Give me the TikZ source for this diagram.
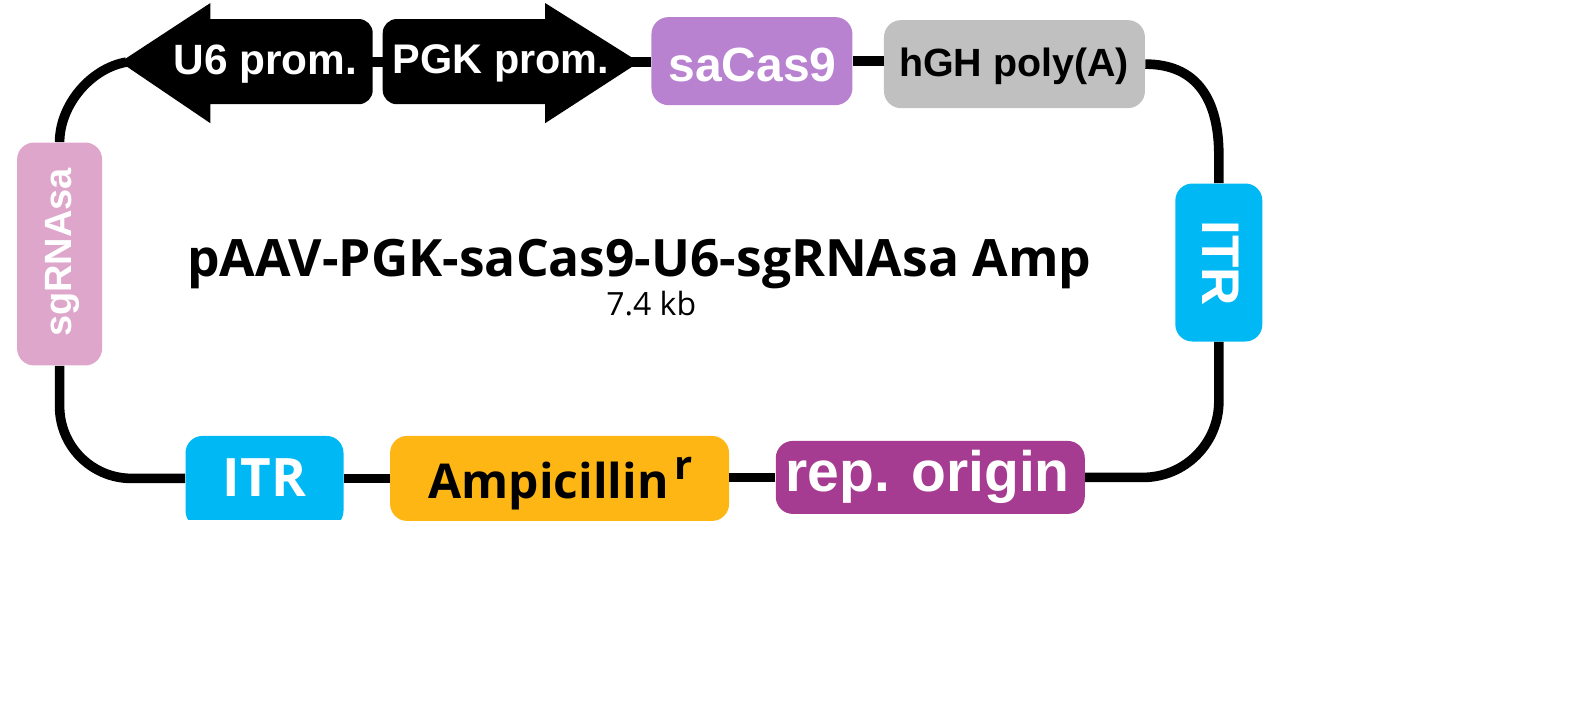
\documentclass[tikz,border=0pt]{standalone}
\usepackage{fontspec}
\setmainfont{Liberation Sans}
\newfontfamily\titlefont{Open Sans}
\tikzset{
  backbone/.style={line width=4.8pt,black},
  part/.style={rounded corners=8.5pt,inner sep=0pt,align=center},
  whitetxt/.style={text=white,font=\bfseries\fontsize{#1}{#1}\selectfont},
  blacktxt/.style={text=black,font=\bfseries\fontsize{#1}{#1}\selectfont},
  softtxt/.style={text=black,font=\titlefont\bfseries\fontsize{#1}{#1}\selectfont},
}
\definecolor{pinkpart}{RGB}{221,166,202}
\definecolor{violetpart}{RGB}{184,130,209}
\definecolor{greypart}{RGB}{192,192,192}
\definecolor{cyanpart}{RGB}{0,184,244}
\definecolor{amberpart}{RGB}{253,182,20}
\definecolor{plumpart}{RGB}{166,60,146}
\begin{document}
\begin{tikzpicture}[x=0.501pt,y=-0.501pt]
    \useasboundingbox (0,0) rectangle (1568,707.6);
    \coordinate (u6tip) at (120,62);
    \coordinate (u6neck) at (126,62);
    \coordinate (u6end) at (370,62);
    \coordinate (pgkend) at (384,62);
    \coordinate (pgktip) at (638,62);
    \coordinate (pgkneck) at (628,62);
    \node[part,fill=pinkpart,minimum width=42.5pt,minimum height=111.5pt] (sgrna) at (59.5,253.5) {};
    \node[part,fill=violetpart,minimum width=100.5pt,minimum height=44pt] (sacas) at (750.5,61) {};
    \node[part,fill=greypart,minimum width=130.5pt,minimum height=44pt] (hgh) at (1012.5,64) {};
    \node[part,fill=cyanpart,minimum width=43.5pt,minimum height=79pt] (itrright) at (1216.5,262) {};
    \node[part,fill=plumpart,minimum width=154.5pt,minimum height=36.5pt] (rep) at (928.5,476.5) {};
    \node[part,fill=amberpart,minimum width=169.5pt,minimum height=42.5pt] (amp) at (558.5,477.5) {};
    \begin{scope}
    \clip (170,425) rectangle (360,518.5);
    \node[part,fill=cyanpart,minimum width=79pt,minimum height=46pt] (itrleft) at (264,481) {};
    \end{scope}
    \fill (u6tip)--(210,3)--(210,19)--(300,19)[rounded corners=7pt]--(372,19)--(372,104)--(300,104)[sharp corners]--(210,104)--(210,123)--cycle;
    \fill (pgktip)--(544,123)--(544,104)--(450,104)[rounded corners=7pt]--(382,104)--(382,19)--(450,19)[sharp corners]--(544,19)--(544,3)--cycle;
    \draw[backbone] (sgrna.north) to[out=90,in=190,looseness=0.9] (u6neck);
    \draw[backbone] (u6end)--(pgkend);
    \draw[backbone] (pgkneck)--(sacas.west |- pgkneck);
    \draw[backbone] (sacas.east)--(hgh.west |- sacas.east);
    \draw[backbone] (hgh.east) .. controls (1195,64) and (1216.5,100) .. (1216.5,155)--(itrright.north);
    \draw[backbone,rounded corners=38pt] (itrright.south)|-(rep.east);
    \draw[backbone] (rep.west)--(amp.east |- rep.west);
    \draw[backbone] (amp.west)--(itrleft.east |- amp.west);
    \draw[backbone,rounded corners=36pt] (itrleft.west |- amp.west)-|(sgrna.south);
    \node[whitetxt=21.2pt] (u6) at (265,64) {U6 prom.};
    \node[whitetxt=20.7pt] (pgk) at (500,63) {PGK prom.};
    \node[whitetxt=24pt] (sacastxt) at (751,65) {saCas9};
    \node[blacktxt=19.7pt] (hghtxt) at (1012,66) {hGH poly(A)};
    \node[whitetxt=19pt,rotate=90] (sgrnatxt) at (62,252) {sgRNAsa};
    \node[whitetxt=26.5pt,rotate=-90] (itrrighttxt) at (1218.5,263) {ITR};
    \node[whitetxt=28.5pt] (reptxt) at (926,476) {rep. origin};
    \node[softtxt=24pt] (amptxt) at (547.5,485) {Ampicillin};
    \node[softtxt=20pt] (amptxtr) at (682,467) {r};
    \node[softtxt=26.5pt,text=white] (itrtxt) at (264,477) {ITR};
    \node[softtxt=25.75pt] (name) at (638,264) {pAAV-PGK-saCas9-U6-sgRNAsa Amp};
    \node[text=black,font=\titlefont\fontsize{16pt}{16pt}\selectfont] (size) at (650,303) {7.4 kb};
\end{tikzpicture}
\end{document}
